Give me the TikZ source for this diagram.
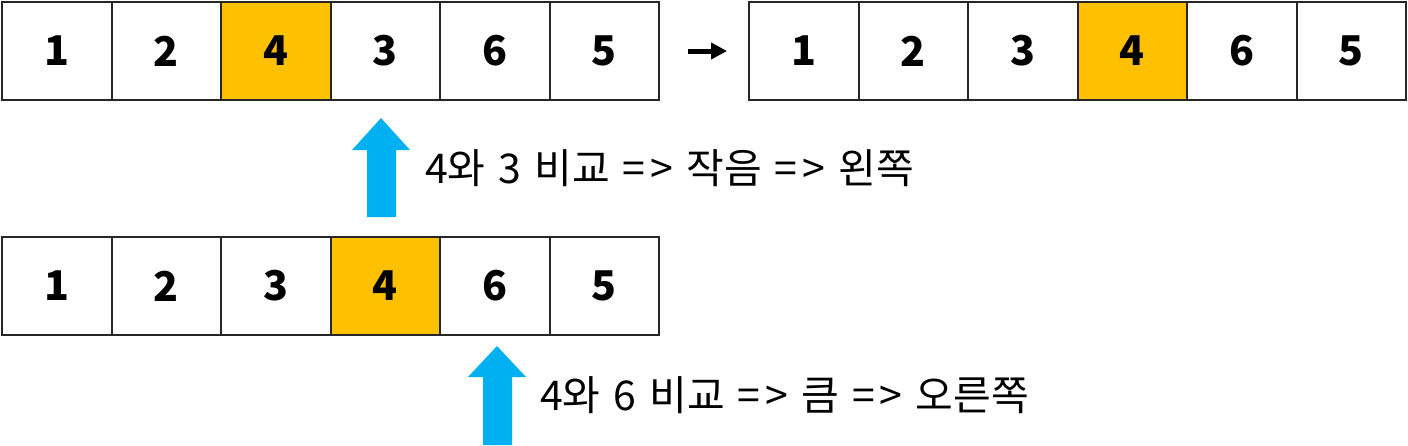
\documentclass[tikz,border=0pt]{standalone}
\usepackage{fontspec}
\usetikzlibrary{arrows.meta}
\newfontfamily\krfont{Noto Sans CJK KR}
\definecolor{hiyellow}{HTML}{FFC000}
\definecolor{arrowblue}{HTML}{00B0F0}
\newcommand{\arr}{=\hspace{5pt}>}
\newcommand{\widesp}{\spaceskip=13pt\relax}
\tikzset{
  cellbox/.style={draw=black!85, line width=2pt, minimum width=109.5pt, minimum height=98pt,
    inner sep=0pt, anchor=north west, font=\krfont\bfseries\fontsize{41}{44}\selectfont},
  hicell/.style={cellbox, fill=hiyellow},
  note/.style={anchor=base west, inner sep=0pt,
    font=\krfont\fontsize{41}{44}\selectfont\widesp},
  blockarrow/.style={fill=arrowblue},
  stepline/.style={line width=5pt, -{Triangle[length=16pt,width=16pt]}}
}
\begin{document}
\begin{tikzpicture}[x=1pt,y=-1pt]
\useasboundingbox (0,0) rectangle (1408,445);
% top-left row
\foreach \v [count=\i] in {1,2,4,3,6,5} {
  \ifnum\i=3
    \node[hicell] (a\i) at ({1+(\i-1)*109.5},1) {\v};
  \else
    \node[cellbox] (a\i) at ({1+(\i-1)*109.5},1) {\v};
  \fi
}
% top-right row
\foreach \v [count=\i] in {1,2,3,4,6,5} {
  \ifnum\i=4
    \node[hicell] (b\i) at ({748+(\i-1)*109.5},1) {\v};
  \else
    \node[cellbox] (b\i) at ({748+(\i-1)*109.5},1) {\v};
  \fi
}
% middle row
\foreach \v [count=\i] in {1,2,3,4,6,5} {
  \ifnum\i=4
    \node[hicell] (c\i) at ({1+(\i-1)*109.5},236) {\v};
  \else
    \node[cellbox] (c\i) at ({1+(\i-1)*109.5},236) {\v};
  \fi
}
% small arrow between rows
\draw[stepline] ([xshift=28pt]a6.east) -- ([xshift=-21pt]b1.west);
% blue block arrows
\fill[blockarrow] (367,217) -- (367,150) -- (352,150) -- (381,118) -- (410,150) -- (396,150) -- (396,217) -- cycle;
\fill[blockarrow] (483,445) -- (483,377) -- (468,377) -- (497,346) -- (526,377) -- (512,377) -- (512,445) -- cycle;
% notes
\node[note] (t1) at (425,183) {4와 3 비교 \arr{} 작음 \arr{} 왼쪽};
\node[note] (t2) at (540,410) {4와 6 비교 \arr{} 큼 \arr{} 오른쪽};
\end{tikzpicture}
\end{document}
